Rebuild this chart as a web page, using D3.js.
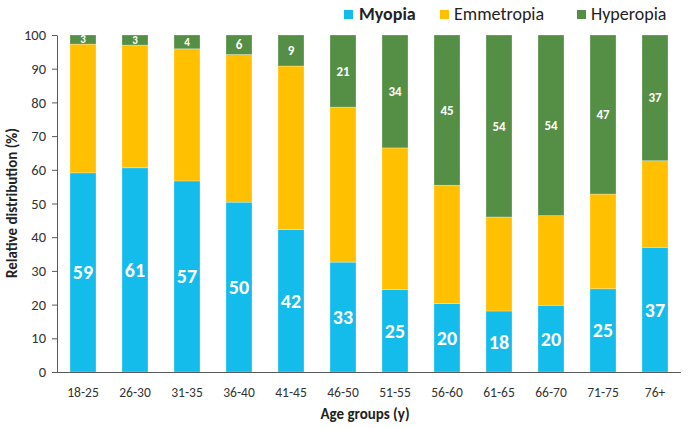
<!DOCTYPE html>
<html><head><meta charset="utf-8">
<script src="https://cdn.jsdelivr.net/npm/d3@7"></script>
<style>body{margin:0;background:#fff}svg{display:block}</style>
</head><body>
<svg id="c" width="688" height="428"></svg>
<script>
const categories = ["18-25","26-30","31-35","36-40","41-45","46-50","51-55","56-60","61-65","66-70","71-75","76+"];
const myopia     = [59.1, 60.6, 56.7, 50.4, 42.3, 32.6, 24.5, 20.3, 18.1, 19.8, 24.7, 37.0];
const emmetropia = [38.2, 36.4, 39.2, 43.8, 48.5, 46.0, 42.0, 35.1, 27.9, 26.6, 28.1, 25.7];
const hyperopia  = [2.7, 3.0, 4.1, 5.8, 9.2, 21.4, 33.5, 44.6, 54.0, 53.6, 47.2, 37.3];
const myopiaLabels    = [59, 61, 57, 50, 42, 33, 25, 20, 18, 20, 25, 37];
const hyperopiaLabels = [3, 3, 4, 6, 9, 21, 34, 45, 54, 54, 47, 37];
const yTicks = [0,10,20,30,40,50,60,70,80,90,100];
const seriesNames = ["Myopia","Emmetropia","Hyperopia"];
const colors = ["#13BCEB","#FFC000","#558E45"];

const font = "Carlito, Lato, 'Open Sans', sans-serif";
const svg = d3.select("#c");
const x = d3.scaleBand().domain(categories).range([57, 681]).paddingInner(0.5).paddingOuter(0.25);
const y = d3.scaleLinear().domain([0,100]).range([372, 35]);

const rows = categories.map((c,i)=>({cat:c, Myopia:myopia[i], Emmetropia:emmetropia[i], Hyperopia:hyperopia[i]}));
const stack = d3.stack().keys(seriesNames)(rows);

svg.append("g").selectAll("g").data(stack).join("g")
  .attr("fill",(d,i)=>colors[i])
  .selectAll("rect").data(d=>d).join("rect")
  .attr("x",d=>x(d.data.cat)).attr("width",x.bandwidth())
  .attr("y",d=>y(d[1])).attr("height",d=>y(d[0])-y(d[1]))
  .attr("stroke","#ffffff").attr("stroke-opacity",0.35).attr("stroke-width",0.8);

// labels
svg.append("g").selectAll("text").data(stack[0]).join("text")
  .attr("x",d=>x(d.data.cat)+x.bandwidth()/2)
  .attr("y",d=>(y(d[0])+y(d[1]))/2)
  .attr("dy","0.35em").attr("text-anchor","middle")
  .attr("fill","#fff").attr("font-family",font).attr("font-weight","bold").attr("font-size",20)
  .text((d,i)=>myopiaLabels[i]);
svg.append("g").selectAll("text").data(stack[2]).join("text")
  .attr("x",d=>x(d.data.cat)+x.bandwidth()/2)
  .attr("y",d=>(y(d[0])+y(d[1]))/2)
  .attr("dy","0.35em").attr("text-anchor","middle")
  .attr("fill","#fff").attr("font-family",font).attr("font-weight","bold")
  .attr("font-size",(d,i)=>hyperopiaLabels[i]<5?11:13)
  .text((d,i)=>hyperopiaLabels[i]);

// y axis
const ya = svg.append("g").attr("transform","translate(57,0)")
  .call(d3.axisLeft(y).tickValues(yTicks).tickSize(5).tickSizeOuter(0).tickPadding(6));
ya.select(".domain").attr("stroke","#595959");
ya.selectAll(".tick line").attr("stroke","#595959");
ya.selectAll("text").attr("font-family",font).attr("font-size",14.5).attr("fill","#333");

// x axis
const xa = svg.append("g").attr("transform","translate(0,372)")
  .call(d3.axisBottom(x).tickSize(0).tickPadding(15));
xa.select(".domain").attr("stroke","#595959").attr("d","M57,0.5H681");
xa.selectAll("text").attr("font-family",font).attr("font-size",13.5).attr("fill","#333");

svg.append("text").attr("x",365).attr("y",419).attr("text-anchor","middle")
  .attr("font-family",font).attr("font-weight","bold").attr("font-size",15).attr("fill","#222")
  .text("Age groups (y)");
svg.append("text").attr("transform","translate(17,203) rotate(-90)").attr("text-anchor","middle")
  .attr("font-family",font).attr("font-weight","bold").attr("font-size",15).attr("fill","#222")
  .text("Relative distribution (%)");

// legend
const legX = [344, 440, 577];
const leg = svg.append("g");
seriesNames.forEach((n,i)=>{
  leg.append("rect").attr("x",legX[i]).attr("y",10).attr("width",9).attr("height",9).attr("fill",colors[i]);
  leg.append("text").attr("x",legX[i]+(i===0?15:14)).attr("y",20)
    .attr("font-family",font).attr("font-size",18).attr("fill","#222")
    .attr("font-weight",i===0?"bold":"normal").text(n);
});
</script>
</body></html>
